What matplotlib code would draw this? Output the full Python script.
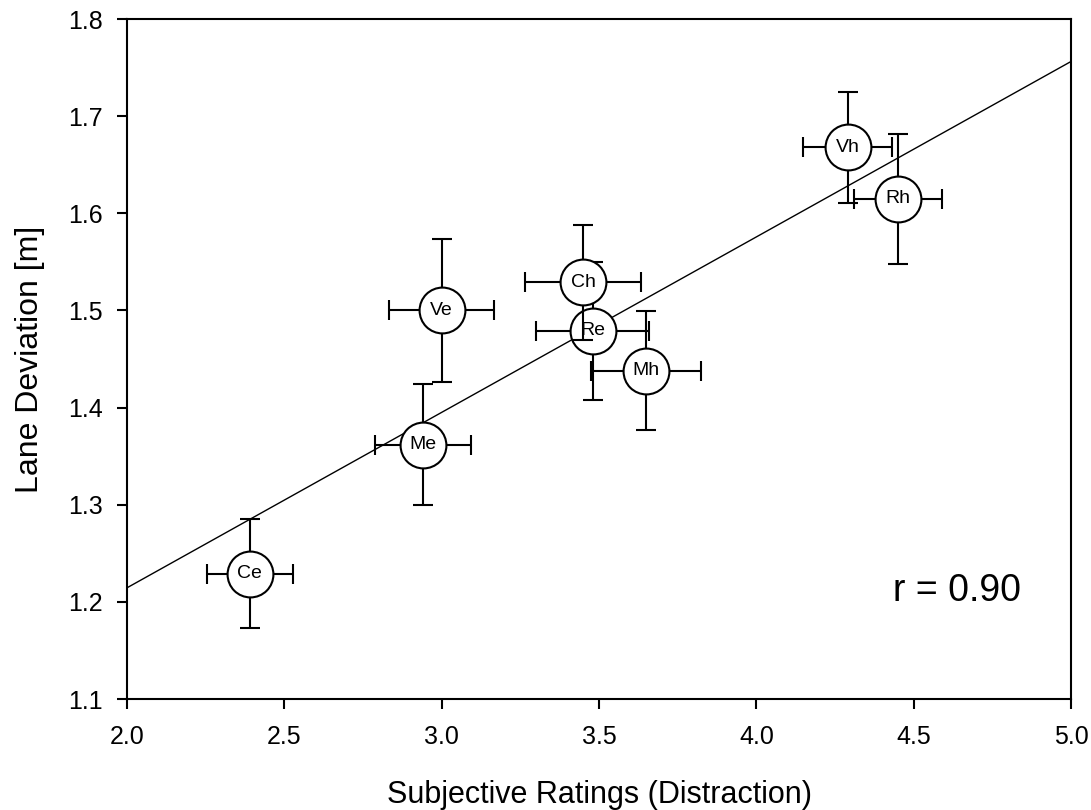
import numpy as np
import matplotlib.pyplot as plt

# conditions and their means / error half-widths
labels = ['Ce', 'Me', 'Ve', 'Re', 'Ch', 'Mh', 'Vh', 'Rh']
ratings = [2.39, 2.94, 3.00, 3.48, 3.45, 3.65, 4.29, 4.45]
deviation = [1.229, 1.362, 1.500, 1.479, 1.529, 1.438, 1.668, 1.615]
ratings_err = [0.136, 0.153, 0.167, 0.179, 0.185, 0.175, 0.142, 0.139]
deviation_err = [0.056, 0.062, 0.074, 0.071, 0.059, 0.061, 0.057, 0.067]

x_ticks = [2.0, 2.5, 3.0, 3.5, 4.0, 4.5, 5.0]
y_ticks = [1.1, 1.2, 1.3, 1.4, 1.5, 1.6, 1.7, 1.8]
r_text = 'r = 0.90'

plt.rcParams['font.family'] = ['Liberation Sans', 'DejaVu Sans']

fig = plt.figure(figsize=(10.91, 8.10), dpi=100)
ax = fig.add_axes([0.1164, 0.137, 0.8653, 0.8395])

# regression line
slope, icpt = np.polyfit(ratings, deviation, 1)
xs = np.array([2.0, 5.0])
ax.plot(xs, slope * xs + icpt, color='black', lw=1.0, zorder=1)

for i, lab in enumerate(labels):
    z = 2 + 2 * i
    ax.errorbar(ratings[i], deviation[i], xerr=ratings_err[i], yerr=deviation_err[i],
                fmt='o', ms=33, mfc='white', mec='black', mew=1.5,
                ecolor='black', elinewidth=1.5, capsize=7.2, capthick=1.5, zorder=z)
    ax.text(ratings[i], deviation[i], lab, ha='center', va='center',
            fontsize=14, zorder=z + 1)

ax.text(4.434, 1.2005, r_text, fontsize=27, ha='left', va='baseline')

ax.set_xlim(2.0, 5.0)
ax.set_ylim(1.1, 1.8)
ax.set_xticks(x_ticks)
ax.set_yticks(y_ticks)
ax.set_xticklabels([f'{v:.1f}' for v in x_ticks])
ax.set_yticklabels([f'{v:.1f}' for v in y_ticks])
ax.tick_params(direction='out', length=7.2, width=1.5, labelsize=18, pad=10)
ax.tick_params(axis='x', pad=11.5)

for s in ax.spines.values():
    s.set_linewidth(1.5)

ax.set_xlabel('Subjective Ratings (Distraction)', fontsize=22, labelpad=22)
ax.set_ylabel('Lane Deviation [m]', fontsize=23, labelpad=17)

fig.savefig('out.png', dpi=100)
